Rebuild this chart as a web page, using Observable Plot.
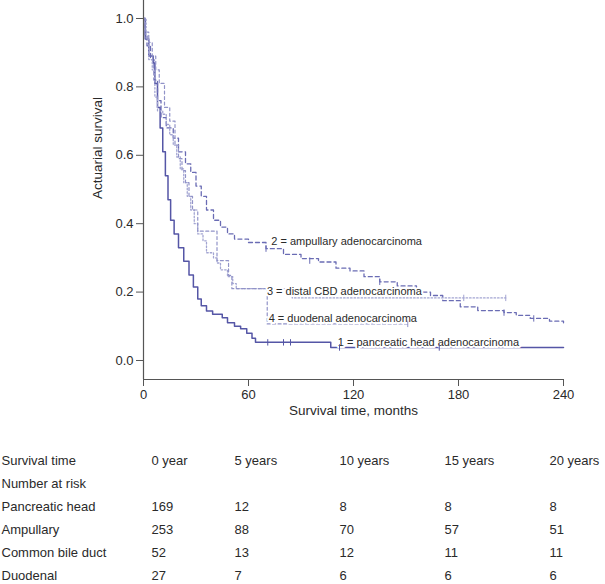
<!DOCTYPE html>
<html><head><meta charset="utf-8">
<script src="https://cdn.jsdelivr.net/npm/d3@7"></script>
<script src="https://cdn.jsdelivr.net/npm/@observablehq/plot@0.6"></script>
<style>
body{margin:0;background:#fff;font-family:"Liberation Sans",Arial,sans-serif;}
#chart{width:605px;}
#chart svg{display:block;}
</style></head><body><div id="chart"></div>
<script>
// ---------- data ----------
const pancreaticT = [0,1,3,5.5,6.5,8,9.5,11,12.5,14,15.5,17.5,20,23,26,28.5,31,33,36,39.5,45,48,52,55.5,59,62,64,107,240];
const pancreaticS = [1,0.94,0.89,0.87,0.81,0.74,0.68,0.61,0.54,0.47,0.41,0.37,0.33,0.29,0.25,0.215,0.18,0.16,0.145,0.135,0.125,0.11,0.10,0.093,0.08,0.065,0.053,0.038,0.038];
const pancreaticCensorT = [71,80,84,112,169];
const pancreaticCensorS = [0.053,0.053,0.053,0.038,0.038];

const ampullaryT = [0,1,2,4,6,8,10,13,17,20,24,27,30,33,36,40,44,48,52,60,70,80,90,100,110,118,126,135,145,156,164,171,181,191,206,213,221,232,240];
const ampullaryS = [1,0.95,0.92,0.88,0.82,0.76,0.71,0.68,0.65,0.61,0.575,0.55,0.51,0.48,0.44,0.41,0.39,0.37,0.355,0.345,0.327,0.31,0.298,0.288,0.27,0.262,0.245,0.23,0.218,0.2,0.19,0.175,0.157,0.146,0.14,0.132,0.123,0.115,0.11];
const ampullaryCensorT = [70,95,135,206,223];
const ampullaryCensorS = [0.327,0.292,0.23,0.14,0.123];

const cbdT = [0,1.5,3,5,6.5,8,11,13,15,17,19,21,23,25,27,29,31,34,36,40,42,44,48,51,53,85,207];
const cbdS = [1,0.94,0.88,0.85,0.77,0.73,0.72,0.69,0.66,0.63,0.595,0.56,0.52,0.48,0.44,0.40,0.37,0.35,0.315,0.30,0.285,0.265,0.245,0.225,0.21,0.183,0.183];
const cbdCensorT = [183,207];
const cbdCensorS = [0.183,0.183];

const duodenalT = [0,1,3,5,7,9,12,15,18,20,22,24,26,28,31,42,48.6,50.5,70.7,151];
const duodenalS = [1,0.96,0.93,0.89,0.85,0.81,0.74,0.70,0.63,0.59,0.555,0.52,0.48,0.44,0.378,0.292,0.249,0.21,0.107,0.107];
const duodenalCensorT = [151];
const duodenalCensorS = [0.107];

const curveLabels = ["1 = pancreatic head adenocarcinoma","2 = ampullary adenocarcinoma","3 = distal CBD adenocarcinoma","4 = duodenal adenocarcinoma"];
const curveLabelT = [111,73,70.5,71.5];
const curveLabelS = [0.053,0.348,0.202,0.123];

const xTicks = [0,60,120,180,240];
const yTicks = [0,0.2,0.4,0.6,0.8,1.0];
const xTitle = "Survival time, months";
const yTitle = "Actuarial survival";

const tableHeader = "Survival time";
const tableSubHeader = "Number at risk";
const timeLabels = ["0 year","5 years","10 years","15 years","20 years"];
const timeMonths = [0,60,120,180,240];
const riskGroups = ["Pancreatic head","Ampullary","Common bile duct","Duodenal"];
const riskPancreatic = [169,12,8,8,8];
const riskAmpullary = [253,88,70,57,51];
const riskCBD = [52,13,12,11,11];
const riskDuodenal = [27,7,6,6,6];

// ---------- build ----------
const zip = (T, S) => T.map((t, i) => ({t, s: S[i]}));
const series = [
  {data: zip(pancreaticT, pancreaticS), censor: zip(pancreaticCensorT, pancreaticCensorS), color: "#5556a6", dash: null, width: 1.5},
  {data: zip(ampullaryT, ampullaryS), censor: zip(ampullaryCensorT, ampullaryCensorS), color: "#6a6cb4", dash: "4,3", width: 1.3},
  {data: zip(cbdT, cbdS), censor: zip(cbdCensorT, cbdCensorS), color: "#a3a5d2", dash: "1.5,2", width: 1.3},
  {data: zip(duodenalT, duodenalS), censor: zip(duodenalCensorT, duodenalCensorS), color: "#9193c8", dash: "3,2.5", width: 1.2}
];
const labelData = curveLabels.map((text, i) => ({text, t: curveLabelT[i], s: curveLabelS[i]}));

const tickSymbol = {draw(ctx, size) { const h = Math.sqrt(size) * 0.6; ctx.moveTo(0, -h); ctx.lineTo(0, h); }};

const W = 605, ML = 143, MR = 42;
const Y_DOMAIN = [-0.0556, 1.0526];
const textColor = "#2a2a2a";

const marks = [];
series.forEach(se => {
  marks.push(Plot.line(se.data, {x: "t", y: "s", curve: "step-after", stroke: se.color, strokeWidth: se.width, strokeDasharray: se.dash}));
});
marks.push(Plot.text(labelData, {x: "t", y: "s", text: "text", textAnchor: "start", fontSize: 11, fill: textColor, stroke: "white", strokeWidth: 4}));
series.forEach(se => {
  marks.push(Plot.dot(se.censor, {x: "t", y: "s", symbol: tickSymbol, r: 3, stroke: se.color, strokeWidth: 1, fill: "none"}));
});
marks.push(
  Plot.ruleX([0], {stroke: "#555", strokeWidth: 1.2}),
  Plot.ruleY([Y_DOMAIN[0]], {stroke: "#555", strokeWidth: 1.2}),
  Plot.axisY({ticks: yTicks, tickSize: 7, tickPadding: 3, tickFormat: d3.format(".1f"), label: null, stroke: "#555"}),
  Plot.axisX({ticks: xTicks, tickSize: 7, tickPadding: 3, label: null, stroke: "#555"}),
  Plot.text([xTitle], {frameAnchor: "bottom", dy: 35, fontSize: 13.5, fill: textColor}),
  Plot.text([yTitle], {frameAnchor: "left", rotate: -90, dx: -46, dy: 9, fontSize: 13.5, fill: textColor})
);

const chart = Plot.plot({
  width: W, height: 430,
  marginLeft: ML, marginRight: MR, marginTop: 0, marginBottom: 51,
  style: {fontFamily: "'Liberation Sans', Arial, sans-serif", fontSize: "13px", color: textColor, background: "#fff"},
  x: {domain: [0, 240]},
  y: {domain: Y_DOMAIN},
  marks
});

// ---------- at-risk table ----------
const rows = [tableHeader, tableSubHeader, ...riskGroups];
const groupValues = [riskPancreatic, riskAmpullary, riskCBD, riskDuodenal];
const cells = [];
timeLabels.forEach((lab, j) => cells.push({row: tableHeader, t: timeMonths[j], text: lab, col: j}));
riskGroups.forEach((g, i) => groupValues[i].forEach((v, j) => cells.push({row: g, t: timeMonths[j], text: String(v), col: j})));

const table = Plot.plot({
  width: W, height: 154,
  marginLeft: ML, marginRight: MR, marginTop: 0, marginBottom: 0,
  style: {fontFamily: "'Liberation Sans', Arial, sans-serif", fontSize: "13px", color: textColor, background: "#fff"},
  x: {domain: [0, 240], axis: null},
  y: {type: "point", domain: rows, range: [28, 146], padding: 0, axis: null},
  marks: [
    Plot.text(rows, {y: d => d, frameAnchor: "left", textAnchor: "start", dx: -142, fill: textColor}),
    Plot.text(cells.filter(d => d.col === 0), {x: "t", y: "row", text: "text", textAnchor: "start", dx: 8, fill: textColor}),
    Plot.text(cells.filter(d => d.col > 0), {x: "t", y: "row", text: "text", textAnchor: "start", dx: -14, fill: textColor})
  ]
});

document.getElementById("chart").append(chart, table);
</script></body></html>
